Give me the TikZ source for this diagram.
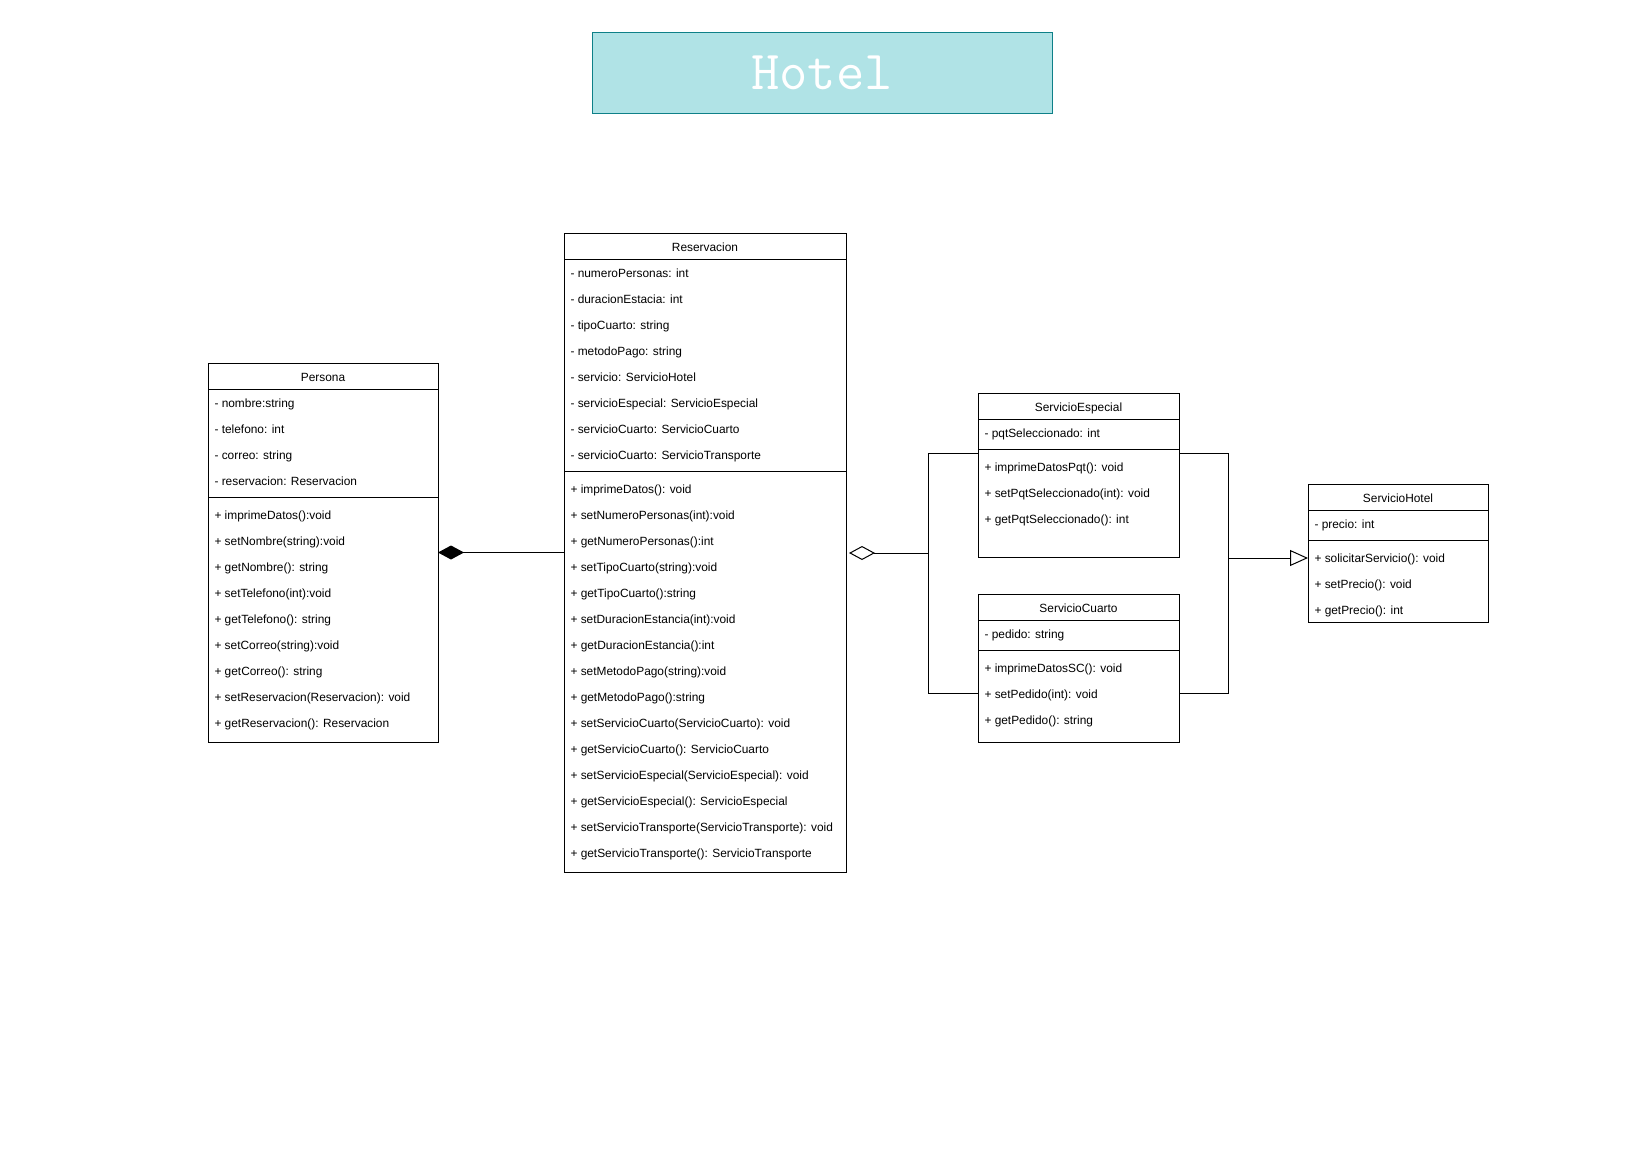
\documentclass[tikz,border=0pt]{standalone}
\usepackage{fontspec}
\setmainfont{Liberation Sans}
\usetikzlibrary{arrows.meta}
\definecolor{titlefill}{HTML}{B0E3E6}
\definecolor{titledraw}{HTML}{0E8088}
\begin{document}
\begin{tikzpicture}[x=1pt, y=-1pt, line width=1pt, line join=miter,
	font=\fontsize{11.9}{13}\selectfont]
	\tikzset{classbox/.style={draw, fill=white, inner sep=0pt, outer sep=0pt},
		row/.style={anchor=base west, inner sep=0pt, yshift=-5.5pt},
		head/.style={anchor=base, inner sep=0pt, yshift=-5.5pt},
		compo/.style={-{Diamond[length=26pt,width=14pt]}},
		aggr/.style={-{Diamond[open,length=26pt,width=14pt,fill=white]}},
		gen/.style={-{Triangle[open,length=18pt,width=16pt,fill=white]}}}
	\fill[white] (0,0) rectangle (1644,1156);
	\useasboundingbox (0,0) rectangle (1644,1156);
	% title
	\node[draw=titledraw, fill=titlefill, minimum width=460pt, minimum height=80pt, inner sep=0pt,
		text=white, font=\ttfamily\fontsize{55}{55}\selectfont] (title) at (822,73) {Hotel};
	% Persona
	\node[classbox, minimum width=230pt, minimum height=379pt] (persona) at (323,552.5) {};
	\node[head] (personaT) at (323,376) {Persona};
	\draw (208,389) -- (438,389) (208,497) -- (438,497);
	\foreach \t [count=\i from 0] in {- nombre:string, - telefono: int, - correo: string,
		- reservacion: Reservacion}
		\node[row] (pa\i) at (214,402+26*\i) {\t};
	\foreach \t [count=\i from 0] in {+ imprimeDatos():void, + setNombre(string):void,
		+ getNombre(): string, + setTelefono(int):void, + getTelefono(): string,
		+ setCorreo(string):void, + getCorreo(): string,
		+ setReservacion(Reservacion): void, + getReservacion(): Reservacion}
		\node[row] (pm\i) at (214,514+26*\i) {\t};
	% Reservacion
	\node[classbox, minimum width=282pt, minimum height=639pt] (reservacion) at (705,552.5) {};
	\node[head] (reservacionT) at (705,246) {Reservacion};
	\draw (564,259) -- (846,259) (564,471) -- (846,471);
	\foreach \t [count=\i from 0] in {- numeroPersonas: int, - duracionEstacia: int,
		- tipoCuarto: string, - metodoPago: string, - servicio: ServicioHotel,
		- servicioEspecial: ServicioEspecial, - servicioCuarto: ServicioCuarto,
		- servicioCuarto: ServicioTransporte}
		\node[row] (ra\i) at (570,272+26*\i) {\t};
	\foreach \t [count=\i from 0] in {+ imprimeDatos(): void, + setNumeroPersonas(int):void,
		+ getNumeroPersonas():int, + setTipoCuarto(string):void, + getTipoCuarto():string,
		+ setDuracionEstancia(int):void, + getDuracionEstancia():int,
		+ setMetodoPago(string):void, + getMetodoPago():string,
		+ setServicioCuarto(ServicioCuarto): void, + getServicioCuarto(): ServicioCuarto,
		+ setServicioEspecial(ServicioEspecial): void, + getServicioEspecial(): ServicioEspecial,
		+ setServicioTransporte(ServicioTransporte): void,
		+ getServicioTransporte(): ServicioTransporte}
		\node[row] (rm\i) at (570,488+26*\i) {\t};
	% ServicioEspecial
	\node[classbox, minimum width=201pt, minimum height=164pt] (especial) at (1078.5,475) {};
	\node[head] (especialT) at (1078.5,406) {ServicioEspecial};
	\draw (978,419) -- (1179,419) (978,449) -- (1179,449);
	\node[row] (ea0) at (984,432) {- pqtSeleccionado: int};
	\foreach \t [count=\i from 0] in {+ imprimeDatosPqt(): void,
		+ setPqtSeleccionado(int): void, + getPqtSeleccionado(): int}
		\node[row] (em\i) at (984,466+26*\i) {\t};
	% ServicioCuarto
	\node[classbox, minimum width=201pt, minimum height=148pt] (cuarto) at (1078.5,668) {};
	\node[head] (cuartoT) at (1078.5,607) {ServicioCuarto};
	\draw (978,620) -- (1179,620) (978,650) -- (1179,650);
	\node[row] (ca0) at (984,633) {- pedido: string};
	\foreach \t [count=\i from 0] in {+ imprimeDatosSC(): void, + setPedido(int): void,
		+ getPedido(): string}
		\node[row] (cm\i) at (984,667+26*\i) {\t};
	% ServicioHotel
	\node[classbox, minimum width=180pt, minimum height=138pt] (hotel) at (1398,553) {};
	\node[head] (hotelT) at (1398,497) {ServicioHotel};
	\draw (1308,510) -- (1488,510) (1308,540) -- (1488,540);
	\node[row] (ha0) at (1314,523) {- precio: int};
	\foreach \t [count=\i from 0] in {+ solicitarServicio(): void, + setPrecio(): void,
		+ getPrecio(): int}
		\node[row] (hm\i) at (1314,557+26*\i) {\t};
	% connectors
	\path (0,453) coordinate (topRow)
	(0,693) coordinate (lowRow)
	(928,553) coordinate (aggBus)
	(1228,558) coordinate (genBus);
	\draw[compo] (reservacion.west |- persona.east) -- (persona.east);
	\draw (especial.west |- topRow) -| (aggBus)
	(cuarto.west |- lowRow) -| (aggBus);
	\draw[aggr] (aggBus) -- ([xshift=3pt]reservacion.east |- aggBus);
	\draw (especial.east |- topRow) -| (genBus)
	(cuarto.east |- lowRow) -| (genBus);
	\draw[gen] (genBus) -- (hotel.west |- genBus);
\end{tikzpicture}
\end{document}
